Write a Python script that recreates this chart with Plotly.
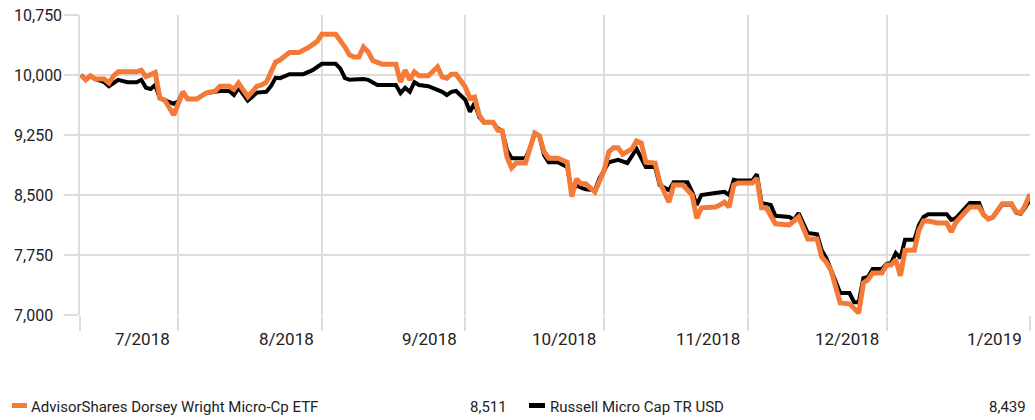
import plotly.graph_objects as go

fund_name = "AdvisorShares Dorsey Wright Micro-Cp ETF"
index_name = "Russell Micro Cap TR USD"

fund_dates = [
    "2018-06-10", "2018-06-11", "2018-06-12", "2018-06-13", "2018-06-15", "2018-06-16", "2018-06-17",
    "2018-06-18", "2018-06-22", "2018-06-23", "2018-06-24", "2018-06-25", "2018-06-26", "2018-06-27",
    "2018-06-28", "2018-06-30", "2018-07-01", "2018-07-02", "2018-07-03", "2018-07-05", "2018-07-07",
    "2018-07-09", "2018-07-10", "2018-07-12", "2018-07-13", "2018-07-14", "2018-07-16", "2018-07-18",
    "2018-07-19", "2018-07-20", "2018-07-22", "2018-07-23", "2018-07-25", "2018-07-27", "2018-07-29",
    "2018-07-31", "2018-08-01", "2018-08-04", "2018-08-06", "2018-08-07", "2018-08-08", "2018-08-09",
    "2018-08-10", "2018-08-11", "2018-08-12", "2018-08-14", "2018-08-17", "2018-08-18", "2018-08-19",
    "2018-08-20", "2018-08-21", "2018-08-22", "2018-08-24", "2018-08-26", "2018-08-27", "2018-08-28",
    "2018-08-29", "2018-08-30", "2018-09-01", "2018-09-02", "2018-09-03", "2018-09-04", "2018-09-05",
    "2018-09-07", "2018-09-08", "2018-09-09", "2018-09-10", "2018-09-11", "2018-09-12", "2018-09-14",
    "2018-09-15", "2018-09-16", "2018-09-17", "2018-09-18", "2018-09-19", "2018-09-21", "2018-09-23",
    "2018-09-24", "2018-09-25", "2018-09-26", "2018-09-27", "2018-09-29", "2018-10-01", "2018-10-02",
    "2018-10-03", "2018-10-04", "2018-10-05", "2018-10-07", "2018-10-08", "2018-10-09", "2018-10-10",
    "2018-10-12", "2018-10-13", "2018-10-15", "2018-10-16", "2018-10-18", "2018-10-20", "2018-10-21",
    "2018-10-22", "2018-10-25", "2018-10-26", "2018-10-27", "2018-10-28", "2018-10-29", "2018-10-30",
    "2018-11-02", "2018-11-03", "2018-11-04", "2018-11-05", "2018-11-07", "2018-11-10", "2018-11-12",
    "2018-11-14", "2018-11-16", "2018-11-17", "2018-11-18", "2018-11-19", "2018-11-21", "2018-11-23",
    "2018-11-25", "2018-11-26", "2018-11-27", "2018-11-28", "2018-11-30", "2018-12-01", "2018-12-02",
    "2018-12-03", "2018-12-04", "2018-12-05", "2018-12-07", "2018-12-08", "2018-12-09", "2018-12-10",
    "2018-12-12", "2018-12-14", "2018-12-15", "2018-12-16", "2018-12-17", "2018-12-19", "2018-12-21",
    "2018-12-22", "2018-12-23", "2018-12-24", "2018-12-26", "2018-12-28", "2018-12-29", "2018-12-30",
    "2018-12-31", "2019-01-01",
]
fund_values = [
    10000, 9940, 9990, 9950, 9950, 9900, 9990,
    10040, 10040, 10060, 9980, 10010, 10030, 9710,
    9690, 9500, 9650, 9790, 9700, 9700, 9775,
    9800, 9860, 9860, 9820, 9900, 9730, 9860,
    9875, 9910, 10160, 10190, 10280, 10280, 10340,
    10420, 10510, 10510, 10350, 10250, 10225, 10225,
    10350, 10290, 10180, 10135, 10135, 9910, 10060,
    9940, 10040, 9990, 9990, 10100, 9975, 9960,
    10010, 10010, 9850, 9710, 9725, 9500, 9410,
    9410, 9310, 9300, 8975, 8840, 8900, 8900,
    9090, 9275, 9240, 9040, 8960, 8960, 8910,
    8480, 8700, 8640, 8640, 8540, 8810, 9040,
    9090, 9090, 9010, 9075, 9175, 9150, 8910,
    8900, 8660, 8410, 8625, 8625, 8500, 8210,
    8340, 8350, 8375, 8410, 8350, 8625, 8650,
    8650, 8710, 8340, 8340, 8140, 8125, 8225,
    7950, 7950, 7725, 7660, 7560, 7150, 7140,
    7025, 7400, 7440, 7525, 7525, 7625, 7625,
    7690, 7490, 7810, 7810, 8060, 8175, 8175,
    8150, 8150, 8040, 8160, 8225, 8350, 8350,
    8250, 8200, 8225, 8390, 8390, 8290, 8275,
    8375, 8511,
]

index_dates = [
    "2018-06-10", "2018-06-11", "2018-06-12", "2018-06-13", "2018-06-15", "2018-06-16", "2018-06-17",
    "2018-06-18", "2018-06-20", "2018-06-22", "2018-06-23", "2018-06-24", "2018-06-25", "2018-06-26",
    "2018-06-27", "2018-06-28", "2018-06-30", "2018-07-01", "2018-07-02", "2018-07-03", "2018-07-05",
    "2018-07-07", "2018-07-09", "2018-07-10", "2018-07-12", "2018-07-13", "2018-07-14", "2018-07-16",
    "2018-07-18", "2018-07-20", "2018-07-21", "2018-07-22", "2018-07-23", "2018-07-25", "2018-07-28",
    "2018-07-30", "2018-08-01", "2018-08-04", "2018-08-05", "2018-08-06", "2018-08-07", "2018-08-10",
    "2018-08-11", "2018-08-13", "2018-08-17", "2018-08-18", "2018-08-19", "2018-08-20", "2018-08-21",
    "2018-08-22", "2018-08-24", "2018-08-27", "2018-08-28", "2018-08-29", "2018-08-30", "2018-09-01",
    "2018-09-02", "2018-09-03", "2018-09-04", "2018-09-05", "2018-09-07", "2018-09-08", "2018-09-09",
    "2018-09-10", "2018-09-11", "2018-09-14", "2018-09-15", "2018-09-16", "2018-09-17", "2018-09-18",
    "2018-09-19", "2018-09-21", "2018-09-23", "2018-09-24", "2018-09-25", "2018-09-26", "2018-09-27",
    "2018-09-29", "2018-09-30", "2018-10-02", "2018-10-04", "2018-10-06", "2018-10-08", "2018-10-10",
    "2018-10-12", "2018-10-13", "2018-10-15", "2018-10-16", "2018-10-19", "2018-10-20", "2018-10-21",
    "2018-10-22", "2018-10-25", "2018-10-27", "2018-10-28", "2018-10-29", "2018-10-30", "2018-11-02",
    "2018-11-03", "2018-11-04", "2018-11-06", "2018-11-07", "2018-11-10", "2018-11-11", "2018-11-12",
    "2018-11-14", "2018-11-16", "2018-11-17", "2018-11-18", "2018-11-19", "2018-11-21", "2018-11-23",
    "2018-11-24", "2018-11-25", "2018-11-26", "2018-11-27", "2018-11-28", "2018-11-30", "2018-12-01",
    "2018-12-02", "2018-12-03", "2018-12-04", "2018-12-05", "2018-12-07", "2018-12-08", "2018-12-09",
    "2018-12-10", "2018-12-14", "2018-12-15", "2018-12-16", "2018-12-17", "2018-12-19", "2018-12-21",
    "2018-12-22", "2018-12-23", "2018-12-24", "2018-12-26", "2018-12-28", "2018-12-29", "2018-12-30",
    "2018-12-31", "2019-01-01",
]
index_values = [
    10000, 9940, 9990, 9950, 9910, 9860, 9900,
    9940, 9910, 9910, 9940, 9840, 9825, 9875,
    9710, 9690, 9640, 9670, 9790, 9700, 9700,
    9775, 9800, 9800, 9800, 9750, 9840, 9680,
    9780, 9790, 9860, 9965, 9960, 10010, 10010,
    10060, 10140, 10140, 10080, 9960, 9940, 9950,
    9940, 9875, 9875, 9775, 9840, 9790, 9910,
    9875, 9860, 9790, 9750, 9790, 9800, 9690,
    9540, 9650, 9475, 9410, 9410, 9330, 9300,
    9060, 8960, 8960, 9090, 9275, 9240, 9000,
    8910, 8910, 8850, 8540, 8625, 8590, 8570,
    8560, 8710, 8910, 8940, 8900, 9075, 8850,
    8850, 8625, 8560, 8660, 8660, 8540, 8375,
    8500, 8525, 8540, 8500, 8690, 8680, 8680,
    8760, 8400, 8375, 8240, 8225, 8190, 8275,
    8025, 8010, 7810, 7710, 7560, 7275, 7275,
    7160, 7160, 7460, 7475, 7575, 7575, 7640,
    7650, 7775, 7710, 7940, 7940, 8125, 8225,
    8260, 8260, 8190, 8210, 8275, 8400, 8400,
    8250, 8200, 8220, 8380, 8380, 8280, 8265,
    8350, 8439,
]

y_ticks = [7000, 7750, 8500, 9250, 10000, 10750]
axis_start = "2018-06-09 18:00"
axis_end = "2019-01-01"
month_ticks = ["2018-07-01", "2018-08-01", "2018-09-01", "2018-10-01",
               "2018-11-01", "2018-12-01", "2019-01-01"]
month_labels = ["7/2018", "8/2018", "9/2018", "10/2018", "11/2018", "12/2018", "1/2019"]

FUND_COLOR = "#F47A38"
INDEX_COLOR = "#000000"
GRID = "#DCDCDC"
TEXT = "#222222"
FONT = "Roboto, sans-serif"

fig = go.Figure()
fig.add_trace(go.Scatter(x=index_dates, y=index_values, mode="lines", name=index_name,
                         line=dict(color=INDEX_COLOR, width=4), showlegend=False))
fig.add_trace(go.Scatter(x=fund_dates, y=fund_values, mode="lines", name=fund_name,
                         line=dict(color=FUND_COLOR, width=5), showlegend=False))

annotations = []
# x-axis month labels, right-aligned just left of each month gridline
for d, lab in zip(month_ticks, month_labels):
    annotations.append(dict(x=d, xref="x", y=-0.08, yref="paper", text=lab, showarrow=False,
                            xanchor="right", yanchor="middle", xshift=-6,
                            font=dict(family=FONT, size=17, color=TEXT)))
# y-axis value labels, left-aligned at the figure edge
for v in y_ticks:
    annotations.append(dict(x=-0.0716, xref="paper", y=v, yref="y", text=f"{v:,}",
                            showarrow=False, xanchor="left", yanchor="middle",
                            font=dict(family=FONT, size=16, color=TEXT)))

shapes = []
legend_items = [
    (fund_name, fund_values[-1], FUND_COLOR, -0.0716, -0.0558, -0.0537, 0.4516),
    (index_name, index_values[-1], INDEX_COLOR, 0.4726, 0.4895, 0.4926, 0.9979),
]
for name, last, color, mx0, mx1, tx, vx in legend_items:
    shapes.append(dict(type="rect", xref="paper", yref="paper", x0=mx0, x1=mx1,
                       y0=-0.2933, y1=-0.3100, fillcolor=color, line=dict(width=0)))
    annotations.append(dict(x=tx, xref="paper", y=-0.3067, yref="paper", text=name,
                            showarrow=False, xanchor="left", yanchor="middle",
                            font=dict(family=FONT, size=15, color=TEXT)))
    annotations.append(dict(x=vx, xref="paper", y=-0.3067, yref="paper", text=f"{last:,}",
                            showarrow=False, xanchor="right", yanchor="middle",
                            font=dict(family=FONT, size=15, color=TEXT)))

fig.update_layout(
    width=1035, height=420,
    margin=dict(l=80, r=5, t=15, b=105, autoexpand=False),
    paper_bgcolor="white", plot_bgcolor="white",
    font=dict(family=FONT, color=TEXT),
    annotations=annotations, shapes=shapes,
    xaxis=dict(type="date", range=[axis_start, axis_end], automargin=False,
               tickvals=[axis_start] + month_ticks, showticklabels=False,
               ticks="outside", ticklen=15, tickwidth=2, tickcolor=GRID,
               showgrid=True, gridcolor=GRID, gridwidth=2,
               zeroline=False, showline=False),
    yaxis=dict(range=[7000, 10750], tickvals=y_ticks, showticklabels=False, automargin=False,
               ticks="outside", ticklen=14, tickwidth=2, tickcolor=GRID,
               showgrid=True, gridcolor=GRID, gridwidth=2,
               zeroline=False, showline=True, linecolor=GRID, linewidth=2),
)

fig.write_html("out.html", config={"displayModeBar": False},
               post_script="document.body.style.margin='0';document.body.style.overflow='hidden';")
